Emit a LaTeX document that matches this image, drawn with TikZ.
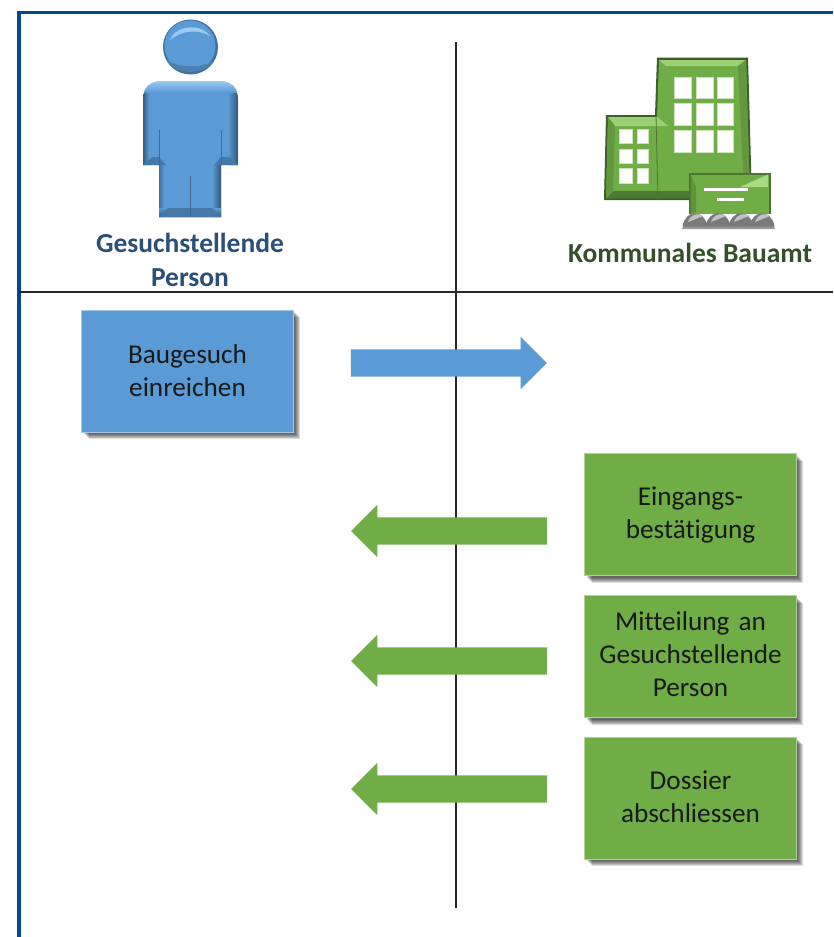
\documentclass[tikz,border=0pt]{standalone}
\usepackage{fontspec}
\setmainfont{Carlito}[Ligatures=CommonOff]
\usetikzlibrary{shadows,shapes.arrows}
\definecolor{frameblue}{HTML}{004A8E}
\definecolor{pblue}{HTML}{5B9BD5}
\definecolor{pbluelt}{HTML}{9CCBF2}
\definecolor{pbluedk}{HTML}{2E4F70}
\definecolor{pgreen}{HTML}{70AD47}
\definecolor{pgreenlt}{HTML}{A9DB84}
\definecolor{pgreendk}{HTML}{3A5F28}
\definecolor{titleblue}{HTML}{2A4F78}
\definecolor{titlegreen}{HTML}{33502A}
\tikzset{
  softshadow/.style={general shadow={shadow xshift=#1pt,shadow yshift=-#1pt,opacity=.14,fill=black}},
  actionbox/.style={minimum width=211pt,minimum height=122pt,align=center,text width=205pt,
    font=\fontsize{27.2}{33}\selectfont,text=black!90,
    line width=.9pt,
    softshadow=7,softshadow=6,softshadow=5,softshadow=4,softshadow=3,softshadow=2},
  bluebox/.style={actionbox,fill=pblue,draw=pblue!55!white},
  greenbox/.style={actionbox,fill=pgreen,draw=pgreen!55!white},
  flowarrow/.style={single arrow,minimum height=196pt,
    single arrow head extend=12.5pt,single arrow head indent=0pt,inner sep=0pt,
    shape border uses incircle=false,draw=none},
  titletext/.style={font=\bfseries\fontsize{27.5}{33.5}\selectfont,align=center},
  rulerline/.style={draw=black!85,line width=1.5pt},
  win/.style={fill=white,draw=pgreen!35!white,line width=.8pt},
}
\begin{document}
\begin{tikzpicture}[x=1pt,y=-1pt]
\useasboundingbox (0,0) rectangle (833,937);
\fill[white] (0,0) rectangle (833,937);
% frame
\draw[frameblue,line width=3.5pt] (19,937) -- (19,12.5) -- (833,12.5);
% rules
\coordinate (vtop) at (456,42);
\coordinate (vbot) at (456,908);
\coordinate (hleft) at (19,292);
\coordinate (hright) at (833,292);
\draw[rulerline] (vtop) -- (vbot);
\draw[rulerline] (hleft) -- (hright);
% person head
\fill[pbluedk!55!pblue] (190.5,47) circle (27.5);
\fill[pblue] (190,46) circle (25.5);
\begin{scope}
\clip (190.5,47) circle (27);
\fill[pbluedk!35!pblue] (165,58) .. controls (172,76) and (208,76) .. (216,58) .. controls (208,69) and (174,69) .. (165,58) -- cycle;
\end{scope}
\fill[pbluelt] (170,40) .. controls (175,26) and (200,22) .. (210,36) .. controls (198,29) and (182,30) .. (170,40) -- cycle;
% person body
\begin{scope}
\clip (143,165) -- (143,100) .. controls (143,88) and (150,81) .. (162,81) -- (219,81)
  .. controls (231,81) and (238,88) .. (238,100) -- (238,165) -- (221,165) -- (221,217) -- (159,217) -- (159,165) -- cycle;
\fill[pblue] (140,78) rectangle (240,220);
\shade[left color=pblue,right color=pbluedk] (228,85) rectangle (239,165);
\shade[left color=pblue,right color=pbluedk] (212,165) rectangle (222,218);
\shade[left color=pbluedk,right color=pblue] (142,85) rectangle (149,165);
\shade[left color=pbluedk!70!pblue,right color=pblue] (158,165) rectangle (164,218);
\shade[top color=pblue,bottom color=pbluedk] (159,208) rectangle (221,218);
\fill[pbluedk!45!pblue] (143,165) -- (152,157) -- (159,157) -- (166,165) -- cycle;
\fill[pbluedk!45!pblue] (238,165) -- (230,157) -- (221,157) -- (214,165) -- cycle;
\fill[pbluedk!45!pblue] (159,217) -- (168,208) -- (212,208) -- (221,217) -- cycle;
\shade[top color=pbluelt,bottom color=pblue] (140,81) rectangle (240,92);
\end{scope}
\draw[pbluedk!65!pblue,line width=.8pt] (159,130) -- (159,165) (221,130) -- (221,165) (190,176) -- (190,216);
\node[titletext,text=titleblue] (persontitle) at (190,260) {Gesuchstellende\\Person};
% buildings
\fill[pgreendk] (657,57.5) -- (748,57.5) -- (752,200) -- (604,200) -- (606,115) -- (655,115) -- cycle;
\fill[pgreen] (659,60) -- (746,60) -- (750,198) -- (606,198) -- (608,117) -- (657,117) -- cycle;
\fill[pgreenlt!75!pgreen] (659,60) -- (746,60) -- (738,66) -- (666,66) -- cycle;
\fill[pgreen!88!black] (746,60) -- (750,198) -- (744,192) -- (738,66) -- cycle;
\fill[pgreenlt!75!pgreen] (608,117) -- (657,117) -- (668,126) -- (615,126) -- cycle;
\fill[pgreen!70!black] (606,198) -- (750,198) -- (742,191) -- (613,191) -- cycle;
\fill[pgreen!88!black] (608,117) -- (615,126) -- (613,191) -- (606,198) -- cycle;
\draw[pgreendk!70!pgreen,line width=.8pt] (656,115) -- (658,200);
\foreach \xa/\xb in {674/691,696/713,717/733}
  \foreach \ya/\yb in {77/98,103/125,130/152}
    \fill[win] (\xa,\ya) rectangle (\xb,\yb);
\foreach \xa/\xb in {619/632,637/648}
  \foreach \ya/\yb in {129/143,149/163,168/183}
    \fill[win] (\xa,\ya) rectangle (\xb,\yb);
% sign
\fill[pgreendk!70!pgreen] (689,173) rectangle (770.5,214);
\fill[pgreen] (690.5,174.5) rectangle (769,214);
\fill[pgreenlt] (740,187) -- (768,174.5) -- (768,187) -- cycle;
\fill[pgreen!85!black] (690.5,174.5) -- (696,187) -- (696,212) -- (690.5,214) -- cycle;
\fill[white] (704,187.5) rectangle (748,191);
\fill[white] (717,197.5) rectangle (744,201);
% rocks
\shade[top color=black!55,bottom color=black!35] (682,229) -- (775,229) -- (773,224) -- (684,224) -- cycle;
\foreach \cx in {695,718,741,762}
  \fill[black!52] (\cx-12.5,226) .. controls (\cx-9,209) and (\cx+9,209) .. (\cx+12.5,226) -- cycle;
\foreach \cx in {695,718,741,762}
  \fill[black!24] (\cx-7,222) .. controls (\cx-4,213) and (\cx+5,213) .. (\cx+8,216) -- cycle;
\node[titletext,text=titlegreen] (officetitle) at (690,253) {Kommunales Bauamt};
% boxes
\node[bluebox] (submit) at (187.5,371) {Baugesuch\\einreichen};
\node[greenbox] (receipt) at (690.5,514.5) {Eingangs-\\bestätigung};
\node[greenbox] (notice) at (690.5,656.5) {Mitteilung an\\Gesuchstellende\\Person\rule[-5pt]{0pt}{1pt}};
\node[greenbox] (close) at (690.5,798) {Dossier\\abschliessen\rule[-3pt]{0pt}{1pt}};
% arrows
\node[flowarrow,fill=pblue] (a1) at (442,363) {\rule{0pt}{27pt}};
\node[flowarrow,fill=pgreen,shape border rotate=180] (a2) at (456,531) {\rule{0pt}{27pt}};
\node[flowarrow,fill=pgreen,shape border rotate=180] (a3) at (456,661) {\rule{0pt}{27pt}};
\node[flowarrow,fill=pgreen,shape border rotate=180] (a4) at (456,789) {\rule{0pt}{27pt}};
\end{tikzpicture}
\end{document}
